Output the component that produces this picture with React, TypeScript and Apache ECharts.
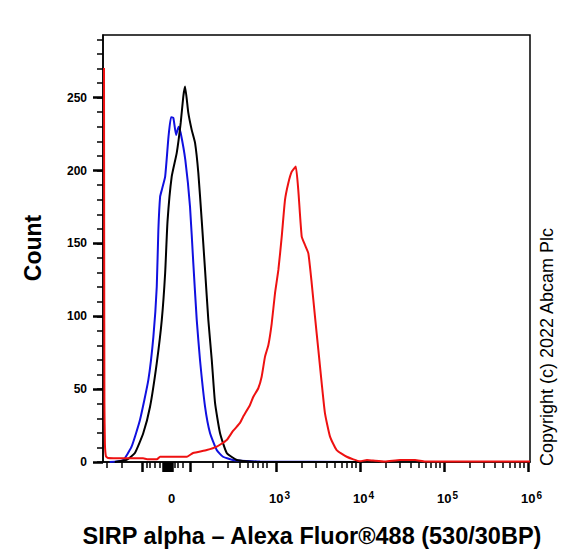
import React, { useEffect, useRef } from "react";
import * as echarts from "echarts";

// x values are display positions on the biexponential axis, in decades (10^3 = 3, 10^4 = 4 ...)
const X_MIN = 0.94;
const X_MAX = 6.024;
const Y_MAX = 293;

const blueSeries: [number, number][] = [
  [1.02, 0], [1.18, 1.4], [1.28, 10.5], [1.38, 28.8], [1.48, 56.3], [1.54, 86.0], [1.58, 120.3],
  [1.599, 159.0], [1.62, 182.0], [1.64, 186.7], [1.68, 195.8], [1.72, 223.3], [1.75, 236.6],
  [1.778, 236.1], [1.81, 224.4], [1.84, 230.1], [1.865, 225.8], [1.92, 207.3], [1.976, 175.2],
  [2.015, 136.6], [2.056, 97.5], [2.095, 70.0], [2.155, 38.0], [2.214, 19.9], [2.294, 8.2],
  [2.369, 3.6], [2.488, 1.4], [2.651, 0.7], [2.81, 0.3], [4.0, 0],
];

const blackSeries: [number, number][] = [
  [1.08, 0], [1.22, 1.4], [1.32, 6.2], [1.42, 19.9], [1.5, 37.9], [1.58, 67.9], [1.64, 97.5],
  [1.68, 129.7], [1.708, 164.9], [1.758, 195.8], [1.818, 212.1], [1.865, 232.7], [1.896, 250.7],
  [1.917, 257.6], [1.956, 239.5], [1.996, 227.9], [2.036, 219.0], [2.075, 198.4], [2.115, 166.1],
  [2.155, 131.8], [2.194, 97.5], [2.235, 70.0], [2.274, 40.5], [2.333, 19.9], [2.413, 6.2],
  [2.532, 1.4], [2.651, 0.5], [2.81, 0], [4.0, 0],
];

const redSeries: [number, number][] = [
  [0.952, 270.4], [0.954, 150], [0.957, 40], [0.963, 12], [0.975, 4], [1.0, 2.7], [1.2, 2.5],
  [1.417, 2.5], [1.464, 1.9], [1.583, 1.9], [1.619, 3.6], [1.94, 3.6], [2.012, 6.2], [2.175, 8.2],
  [2.294, 10.5], [2.413, 15.1], [2.488, 21.3], [2.571, 26.8], [2.607, 30.9], [2.69, 39.1],
  [2.73, 44.8], [2.789, 50.6], [2.829, 58.5], [2.869, 72.3], [2.909, 80.3], [2.949, 95.2],
  [2.988, 115.8], [3.028, 131.8], [3.068, 154.6], [3.107, 179.8], [3.146, 191.3], [3.187, 199.2],
  [3.235, 202.7], [3.265, 186.7], [3.306, 154.6], [3.345, 148.9], [3.385, 143.2], [3.425, 122.6],
  [3.464, 99.7], [3.504, 76.9], [3.544, 54.0], [3.583, 33.4], [3.643, 17.4], [3.722, 8.2],
  [3.842, 3.6], [4.0, 0.5], [4.083, 1.4], [4.155, 1.0], [4.298, 0.3], [4.476, 1.4], [4.655, 1.4],
  [4.774, 0.3], [6.024, 0.3],
];

// tick positions (display units)
const xMajorTicks = [
  1.405, 1.655, 1.667, 1.679, 1.69, 1.702, 1.714, 1.726, 1.738, 1.75, 1.762, 1.976, 3, 4, 5, 6,
];
const xMinorLinear = [
  0.988, 1.167, 1.464, 1.5, 1.56, 1.619, 1.798, 1.833, 1.893, 2.25, 2.429, 2.571, 2.667, 2.726,
  2.786, 2.845, 2.893,
];
const xDecades = [3, 4, 5];
const xLogMultipliers = [2, 3, 4, 5, 6, 7, 8, 9];
const xLabelValues = [1.738, 3, 4, 5, 6];
const xLabelTexts = ["0", "10|3", "10|4", "10|5", "10|6"];

const yMinorTicks = [0, 10, 20, 30, 40, 50, 60, 70, 80, 90, 100, 110, 120, 130, 140, 150, 160, 170, 180, 190, 200, 210, 220, 230, 240, 250, 260, 270, 280, 290];
const yMajorTicks = [0, 50, 100, 150, 200, 250];

const X_TITLE = "SIRP alpha \u2013 Alexa Fluor\u00AE488 (530/30BP)";
const Y_TITLE = "Count";
const COPYRIGHT = "Copyright (c) 2022 Abcam Plc";

const FONT = "'Liberation Sans', Arial, sans-serif";

export default function App() {
  const ref = useRef<HTMLDivElement>(null);
  useEffect(() => {
    if (!ref.current) return;
    const chart = echarts.init(ref.current, null, { renderer: "svg" });
    const xMinor = xMinorLinear.concat(
      ...xDecades.map((d) => xLogMultipliers.map((k) => d + Math.log10(k)))
    );
    const labelMap: Record<string, string> = {};
    xLabelValues.forEach((v, i) => (labelMap[v.toFixed(3)] = xLabelTexts[i]));

    const baseX = {
      type: "value" as const,
      min: X_MIN,
      max: X_MAX,
      position: "bottom" as const,
      offset: 0,
      splitLine: { show: false },
    };
    const baseY = {
      type: "value" as const,
      min: 0,
      max: Y_MAX,
      position: "left" as const,
      offset: 0,
      splitLine: { show: false },
    };

    chart.setOption({
      animation: false,
      backgroundColor: "#ffffff",
      grid: {
        left: 103,
        right: 47,
        top: 35,
        bottom: 97,
        show: true,
        borderColor: "#000",
        borderWidth: 1.5,
        backgroundColor: "transparent",
      },
      xAxis: [
        {
          ...baseX,
          axisLine: { show: true, lineStyle: { color: "#000", width: 1.5 } },
          axisTick: { show: true, customValues: xMinor, length: 6, lineStyle: { color: "#000", width: 1.5 } },
          axisLabel: { show: false },
        },
        {
          ...baseX,
          axisLine: { show: false },
          axisTick: { show: true, customValues: xMajorTicks, length: 10, lineStyle: { color: "#000", width: 2.5 } },
          axisLabel: {
            show: true,
            customValues: xLabelValues,
            margin: 28,
            padding: [0, 0, 0, 7],
            formatter: (v: number) => {
              const t = labelMap[v.toFixed(3)] ?? "";
              const parts = t.split("|");
              return `{b|${parts[0]}}{s|${parts[1] ?? " "}}`;
            },
            rich: {
              b: { fontSize: 13, fontWeight: "bold", fontFamily: FONT, color: "#000", lineHeight: 15, verticalAlign: "bottom" },
              s: { fontSize: 10, fontWeight: "bold", fontFamily: FONT, color: "#000", lineHeight: 11, padding: [0, 0, 9, 1], verticalAlign: "top" },
            },
          },
        },
      ],
      yAxis: [
        {
          ...baseY,
          axisLine: { show: true, lineStyle: { color: "#000", width: 1.5 } },
          axisTick: { show: true, customValues: yMinorTicks, length: 6, lineStyle: { color: "#000", width: 1.5 } },
          axisLabel: {
            show: true,
            customValues: yMajorTicks,
            margin: 16,
            fontSize: 12,
            fontWeight: "bold",
            fontFamily: FONT,
            color: "#000",
          },
        },
        {
          ...baseY,
          axisLine: { show: false },
          axisTick: { show: true, customValues: yMajorTicks, length: 10, lineStyle: { color: "#000", width: 2.5 } },
          axisLabel: { show: false },
        },
      ],
      series: [
        { name: "blue", type: "line", xAxisIndex: 0, yAxisIndex: 0, data: blueSeries, showSymbol: false, smooth: 0.15, lineStyle: { color: "#1010e0", width: 2 }, z: 3 },
        { name: "black", type: "line", xAxisIndex: 0, yAxisIndex: 0, data: blackSeries, showSymbol: false, smooth: 0.15, lineStyle: { color: "#000000", width: 2 }, z: 4 },
        { name: "red", type: "line", xAxisIndex: 0, yAxisIndex: 0, data: redSeries, showSymbol: false, smooth: 0.15, lineStyle: { color: "#ee1111", width: 2 }, z: 5 },
      ],
      graphic: [
        {
          type: "text",
          x: 312,
          y: 536,
          style: { text: X_TITLE, fontSize: 23.5, fontWeight: "bold", fontFamily: FONT, fill: "#000", align: "center", verticalAlign: "middle" },
        },
        {
          type: "text",
          x: 33,
          y: 248,
          rotation: Math.PI / 2,
          style: { text: Y_TITLE, fontSize: 23, fontWeight: "bold", fontFamily: FONT, fill: "#000", align: "center", verticalAlign: "middle" },
        },
        {
          type: "text",
          x: 547,
          y: 347,
          rotation: Math.PI / 2,
          style: { text: COPYRIGHT, fontSize: 18, fontFamily: FONT, fill: "#000", align: "center", verticalAlign: "middle" },
        },
      ],
    });
    return () => chart.dispose();
  }, []);
  return (
    <div
      ref={ref}
      style={{ position: "fixed", left: 0, top: 0, width: 577, height: 559 }}
    />
  );
}
